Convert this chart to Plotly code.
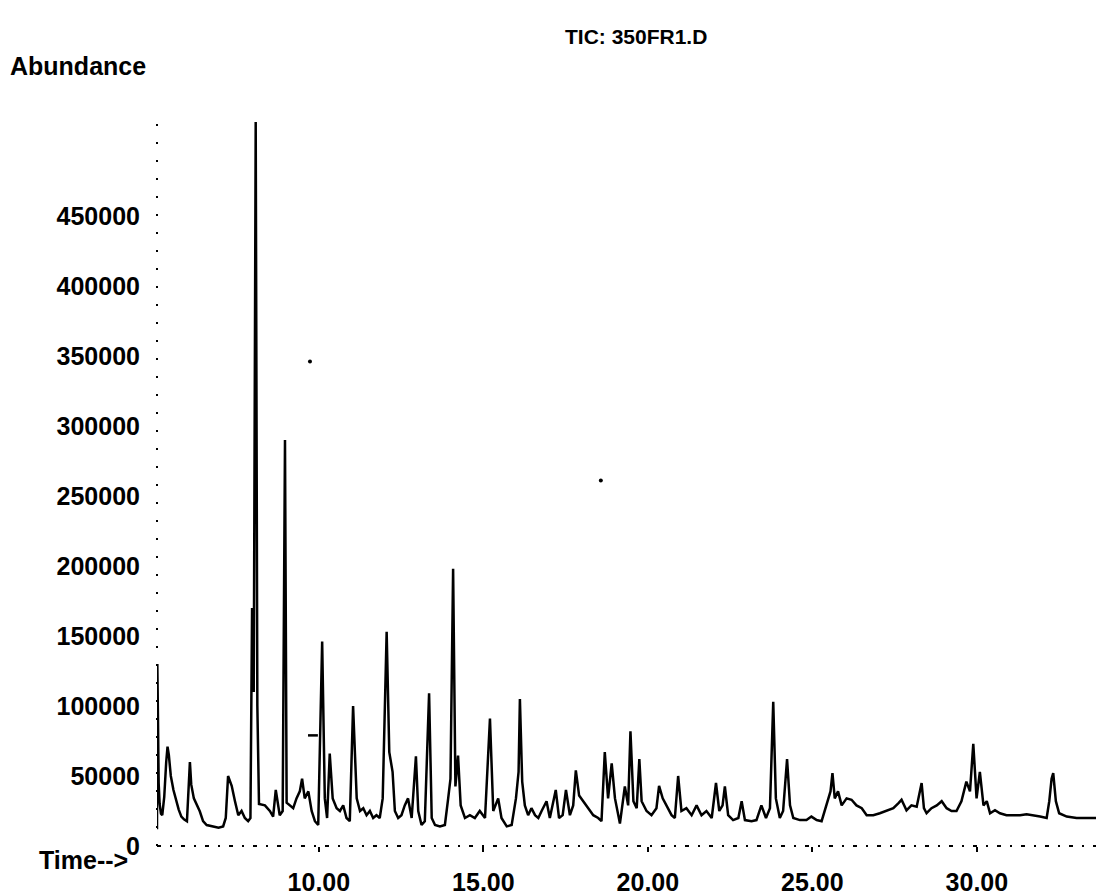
import plotly.graph_objects as go

# Retention time (min) and abundance
time_min = [
    5.08, 5.09, 5.11, 5.13, 5.16, 5.20, 5.24, 5.30, 5.36, 5.40, 5.44, 5.50, 5.58, 5.66, 5.74, 5.82, 5.90, 5.99,
    6.04, 6.08, 6.12, 6.20, 6.38, 6.48, 6.59, 6.80, 6.95, 7.09, 7.17, 7.24, 7.35, 7.45, 7.55, 7.65, 7.75, 7.85,
    7.92, 7.97, 8.02, 8.08, 8.13, 8.18, 8.36, 8.51, 8.61, 8.69, 8.81, 8.90, 8.97, 9.02, 9.12, 9.22, 9.32, 9.42,
    9.49, 9.57, 9.68, 9.78, 9.88, 9.98, 10.10, 10.18, 10.25, 10.33, 10.42, 10.54, 10.64, 10.74, 10.84, 10.94,
    11.04, 11.15, 11.25, 11.35, 11.45, 11.55, 11.65, 11.75, 11.85, 11.94, 12.06, 12.14, 12.24, 12.31, 12.41,
    12.51, 12.61, 12.71, 12.82, 12.95, 13.02, 13.12, 13.22, 13.35, 13.43, 13.53, 13.68, 13.83, 13.93, 14.00,
    14.08, 14.15, 14.23, 14.31, 14.44, 14.59, 14.74, 14.89, 15.05, 15.20, 15.30, 15.45, 15.55, 15.71, 15.86,
    15.99, 16.07, 16.11, 16.18, 16.26, 16.36, 16.46, 16.57, 16.67, 16.77, 16.92, 17.02, 17.20, 17.30, 17.41,
    17.51, 17.63, 17.73, 17.81, 17.91, 18.03, 18.19, 18.34, 18.49, 18.59, 18.69, 18.79, 18.90, 19.00, 19.15,
    19.30, 19.40, 19.47, 19.56, 19.66, 19.74, 19.81, 19.96, 20.11, 20.26, 20.34, 20.45, 20.57, 20.72, 20.82,
    20.92, 21.02, 21.17, 21.33, 21.48, 21.63, 21.78, 21.94, 22.07, 22.17, 22.27, 22.34, 22.44, 22.59, 22.75,
    22.85, 22.95, 23.15, 23.30, 23.45, 23.59, 23.71, 23.81, 23.89, 24.01, 24.11, 24.23, 24.32, 24.42, 24.62,
    24.82, 24.97, 25.13, 25.28, 25.38, 25.48, 25.55, 25.61, 25.68, 25.78, 25.89, 26.04, 26.19, 26.34, 26.50,
    26.65, 26.85, 27.05, 27.25, 27.46, 27.61, 27.71, 27.86, 28.01, 28.17, 28.32, 28.39, 28.47, 28.62, 28.78,
    28.93, 29.08, 29.23, 29.38, 29.53, 29.68, 29.79, 29.89, 29.99, 30.09, 30.20, 30.30, 30.40, 30.55, 30.70,
    30.90, 31.11, 31.31, 31.51, 31.71, 31.92, 32.12, 32.20, 32.27, 32.32, 32.40, 32.50, 32.73, 33.03, 33.33,
    33.62,
]
abundance = [
    12000, 130000, 90000, 45000, 30000, 23000, 22000, 35000, 60000, 71000, 65000, 50000, 40000, 32000, 26000, 21000, 19000, 17700,
    45000, 60000, 44000, 34000, 24800, 17700, 15000, 14000, 13000, 14000, 20000, 50000, 43000, 32000, 22000, 25000, 20000, 17700,
    20000, 170000, 110000, 517000, 100000, 30000, 29000, 25000, 21000, 40000, 22000, 25000, 290000, 31000, 29000, 27000, 34000, 39000,
    48000, 34000, 39000, 25000, 17700, 15000, 146000, 34000, 20000, 66000, 34000, 27000, 25000, 29000, 20000, 17700,
    100000, 34000, 25000, 27000, 22000, 25000, 20000, 22000, 20000, 34000, 153000, 67000, 53000, 25000, 20000,
    22000, 29000, 34000, 20000, 64000, 25000, 15000, 17700, 109000, 20000, 15000, 14000, 15000, 34000, 48000,
    198000, 42500, 64500, 29000, 20000, 22000, 20000, 25000, 20000, 91000, 25000, 34000, 20000, 14000, 15000,
    34000, 53000, 105000, 46000, 29000, 22000, 27000, 22000, 20000, 25000, 32000, 20000, 40000, 20000, 22000,
    40000, 22000, 29000, 54000, 36000, 32000, 27000, 22000, 20000, 17700, 67000, 34000, 59000, 34000, 16000,
    42500, 29000, 82000, 32000, 27000, 62000, 32000, 25000, 22000, 27000, 43000, 34000, 29000, 22000, 20000,
    50000, 25000, 27000, 22000, 29000, 22000, 25000, 20000, 45000, 25000, 29000, 42500, 22000, 18500, 20000,
    32000, 18500, 17700, 18500, 29000, 20000, 27000, 103000, 34000, 20000, 25000, 62000, 29000, 20000, 18500,
    18500, 21000, 18500, 17700, 25000, 34000, 39000, 52000, 34000, 39000, 29000, 34000, 33000, 29000, 27000,
    22000, 22000, 23400, 25000, 27000, 30500, 33000, 25500, 29000, 28000, 45000, 27000, 23400, 27000, 29000,
    32000, 27000, 25000, 25000, 32000, 46000, 39000, 73000, 34000, 53000, 29000, 32000, 23400, 25500, 23400,
    22000, 22000, 22000, 22700, 22000, 21000, 20000, 32000, 48000, 52000, 32000, 23400, 21000, 20000, 20000,
    20000,
]

# Short horizontal stroke printed on the trace near 9.7-10.0 min
stroke_time = [9.67, 9.97]
stroke_abund = [79000, 79000]

# Isolated specks on the printout
speck_time = [9.73, 18.57]
speck_abund = [346000, 261000]

x_ticks = [10, 15, 20, 25, 30]
x_tick_text = ["10.00", "15.00", "20.00", "25.00", "30.00"]
y_ticks = [0, 50000, 100000, 150000, 200000, 250000, 300000, 350000, 400000, 450000]
y_tick_text = [str(v) for v in y_ticks]

FONT = "Liberation Sans, Arial, sans-serif"

fig = go.Figure()
fig.add_trace(go.Scatter(x=time_min, y=abundance, mode="lines",
                         line=dict(color="black", width=2.5), hoverinfo="x+y"))
fig.add_trace(go.Scatter(x=stroke_time, y=stroke_abund, mode="lines",
                         line=dict(color="black", width=2.5)))
fig.add_trace(go.Scatter(x=speck_time, y=speck_abund, mode="markers",
                         marker=dict(color="black", size=4)))

fig.update_layout(
    width=1096, height=896,
    margin=dict(l=157, r=0, t=110, b=48),
    paper_bgcolor="white", plot_bgcolor="white",
    showlegend=False,
    font=dict(family=FONT, size=25, color="black", weight="bold"),
    xaxis=dict(range=[5.08, 33.62], tickvals=x_ticks, ticktext=x_tick_text,
               showgrid=False, zeroline=False, showline=False,
               ticks="outside", ticklen=5, tickwidth=2, tickcolor="black",
               ticklabelstandoff=9, tickfont=dict(size=25, weight="bold")),
    yaxis=dict(range=[0, 525600], tickvals=y_ticks, ticktext=y_tick_text,
               showgrid=False, zeroline=False, showline=False, ticks="",
               ticklabelstandoff=16, tickfont=dict(size=25, weight="bold")),
    shapes=[
        dict(type="line", xref="paper", yref="paper", x0=0, x1=1, y0=0, y1=0,
             line=dict(color="black", width=2, dash="4px,9px,2px,9px")),
        dict(type="line", xref="paper", yref="paper", x0=0, x1=0, y0=0, y1=0.987,
             line=dict(color="black", width=2, dash="2px,16px")),
    ],
    annotations=[
        dict(text="TIC: 350FR1.D", xref="paper", yref="paper", x=0.51, y=1.1003,
             xanchor="center", yanchor="middle", showarrow=False,
             font=dict(size=21, weight="bold")),
        dict(text="Abundance", xref="paper", yref="paper", x=-0.1587, y=1.0596,
             xanchor="left", yanchor="middle", showarrow=False,
             font=dict(size=25, weight="bold")),
        dict(text="Time-->", xref="paper", yref="paper", x=-0.0288, y=-0.019,
             xanchor="right", yanchor="middle", showarrow=False,
             font=dict(size=25, weight="bold")),
    ],
)

fig.write_html("out.html", config={"displayModeBar": False},
               post_script="document.body.style.margin='0px';document.body.style.overflow='hidden';")
